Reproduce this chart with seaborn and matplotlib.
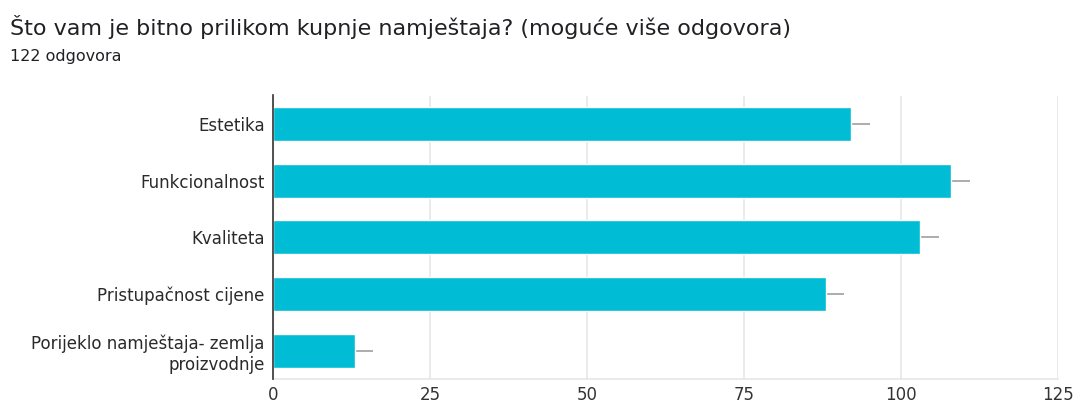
import matplotlib
matplotlib.use("Agg")
import matplotlib.pyplot as plt
import seaborn as sns
import pandas as pd

categories = [
    "Estetika",
    "Funkcionalnost",
    "Kvaliteta",
    "Pristupačnost cijene",
    "Porijeklo namještaja- zemlja\nproizvodnje",
]
counts = [92, 108, 103, 88, 13]
err_right = [3, 3, 3, 3, 3]
x_ticks = [0, 25, 50, 75, 100, 125]

title = "Što vam je bitno prilikom kupnje namještaja? (moguće više odgovora)"
subtitle = "122 odgovora"

df = pd.DataFrame({"kategorija": categories, "broj": counts})

sns.set_theme(style="white")
plt.rcParams["font.family"] = ["DejaVu Sans"]

fig = plt.figure(figsize=(10.75, 4.05), dpi=100)
ax = fig.add_axes([273 / 1075, 1 - 379 / 405, (1058 - 273) / 1075, (379 - 95.5) / 405])

bar_color = "#00BCD4"
sns.barplot(data=df, x="broj", y="kategorija", orient="h", color=bar_color,
            saturation=1, width=0.6, ax=ax, zorder=3)

# one-sided whiskers to the right of each bar
ax.errorbar(df["broj"], range(len(df)), xerr=[[0] * len(df), err_right],
            fmt="none", ecolor="#9e9e9e", elinewidth=1.2, capsize=0, zorder=2)

ax.set_xlim(0, 125)
ax.set_ylim(len(df) - 0.5, -0.5)
ax.set_xticks(x_ticks)
ax.set_xticklabels([str(t) for t in x_ticks], fontsize=12, color="#333333")
ax.tick_params(axis="y", labelsize=12, labelcolor="#2a2a2a", length=0, pad=6)
ax.tick_params(axis="x", length=0, pad=5)
ax.set_xlabel("")
ax.set_ylabel("")

ax.grid(axis="x", color="#e6e6e6", linewidth=1.2, zorder=0)
ax.set_axisbelow(True)
for side in ["top", "right"]:
    ax.spines[side].set_visible(False)
ax.spines["bottom"].set_color("#e6e6e6")
ax.spines["bottom"].set_linewidth(1.2)
ax.spines["left"].set_color("#333333")
ax.spines["left"].set_linewidth(1.2)
ax.spines["left"].set_zorder(4)

for lbl in ax.get_yticklabels():
    lbl.set_horizontalalignment("right")
    lbl.set_multialignment("right")
    lbl.set_linespacing(1.2)

fig.text(10 / 1075, 1 - 35 / 405, title, fontsize=16, color="#202124",
         va="baseline", ha="left")
fig.text(10 / 1075, 1 - 61 / 405, subtitle, fontsize=11.5, color="#202124",
         va="baseline", ha="left")

fig.savefig("out.png", dpi=100, facecolor="white")
